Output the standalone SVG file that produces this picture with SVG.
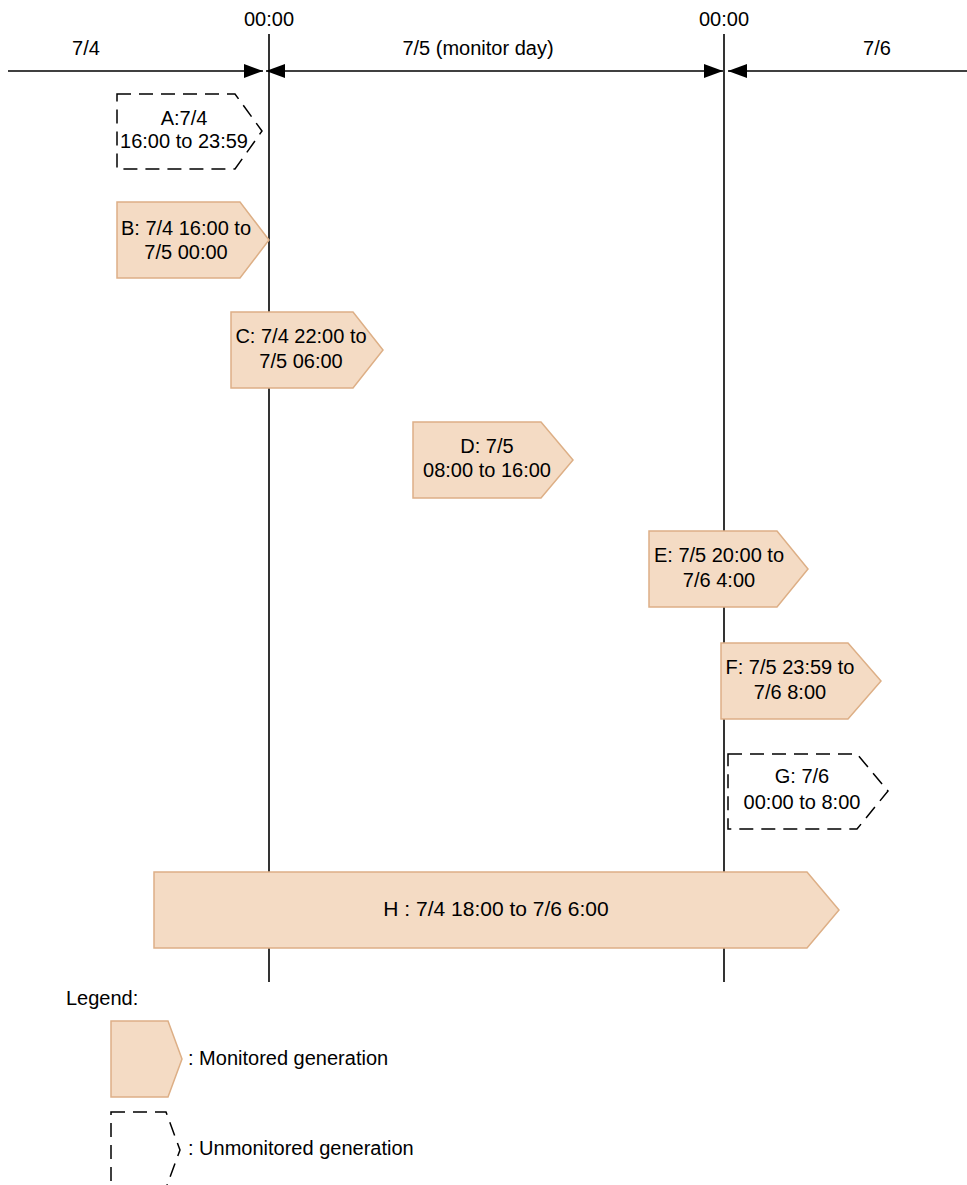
<svg xmlns="http://www.w3.org/2000/svg" width="967" height="1185" viewBox="0 0 967 1185">
<style>
text{font-family:"Liberation Sans",Arial,sans-serif;font-size:20px;fill:#000}
.c{text-anchor:middle}
.mon{fill:#F4DBC4;stroke:#DDAF86;stroke-width:1.5}
.unm{fill:none;stroke:#000;stroke-width:1.5;stroke-dasharray:14 8}
.ln{stroke:#000;stroke-width:1.6;fill:none}
</style>
<defs>
<marker id="ah" markerUnits="userSpaceOnUse" markerWidth="19" markerHeight="14" viewBox="0 0 19 14" refX="19" refY="7" orient="auto-start-reverse">
<path d="M0,0 L19,7 L0,14 z" fill="#000"/>
</marker>
</defs>
<rect width="967" height="1185" fill="#fff"/>
<g id="header">
<text class="c" x="269" y="26">00:00</text>
<text class="c" x="724" y="26">00:00</text>
<text class="c" x="86" y="55">7/4</text>
<text class="c" x="478" y="55">7/5 (monitor day)</text>
<text class="c" x="877" y="55">7/6</text>
</g>
<g id="connectors">
<line class="ln" x1="269" y1="34" x2="269" y2="982"/>
<line class="ln" x1="724" y1="34" x2="724" y2="982"/>
<line class="ln" x1="8" y1="71" x2="263" y2="71" marker-end="url(#ah)"/>
<line class="ln" x1="266" y1="71" x2="723" y2="71" marker-start="url(#ah)" marker-end="url(#ah)"/>
<line class="ln" x1="728" y1="71" x2="967" y2="71" marker-start="url(#ah)"/>
</g>
<g id="nodeA">
<path class="unm" d="M117,94 H235 L262,131 L235,169 H117 Z" style="fill:#fff"/>
<text class="c" x="184" y="125">A:7/4</text>
<text class="c" x="184" y="148">16:00 to 23:59</text>
</g>
<g id="nodeB">
<path class="mon" d="M117,202 H240 L269,240 L240,278 H117 Z"/>
<text class="c" x="186" y="235">B: 7/4 16:00 to</text>
<text class="c" x="186" y="259">7/5 00:00</text>
</g>
<g id="nodeC">
<path class="mon" d="M231,312 H353 L383,350 L353,388 H231 Z"/>
<text class="c" x="301" y="343">C: 7/4 22:00 to</text>
<text class="c" x="301" y="368">7/5 06:00</text>
</g>
<g id="nodeD">
<path class="mon" d="M413,422 H541 L573,460 L541,498 H413 Z"/>
<text class="c" x="487" y="453">D: 7/5</text>
<text class="c" x="487" y="477">08:00 to 16:00</text>
</g>
<g id="nodeE">
<path class="mon" d="M649,531 H777 L808,569 L777,607 H649 Z"/>
<text class="c" x="719" y="562">E: 7/5 20:00 to</text>
<text class="c" x="719" y="587">7/6 4:00</text>
</g>
<g id="nodeF">
<path class="mon" d="M721,643 H848 L881,681 L848,719 H721 Z"/>
<text class="c" x="790" y="674">F: 7/5 23:59 to</text>
<text class="c" x="790" y="699">7/6 8:00</text>
</g>
<g id="nodeG">
<path class="unm" d="M728,754 H857 L888,791 L857,829 H728 Z" style="fill:#fff"/>
<text class="c" x="802" y="783">G: 7/6</text>
<text class="c" x="802" y="809">00:00 to 8:00</text>
</g>
<g id="nodeH">
<path class="mon" d="M154,872 H807 L839,910 L807,948 H154 Z"/>
<text class="c" x="496" y="916" style="font-size:21px">H : 7/4 18:00 to 7/6 6:00</text>
</g>
<g id="legend">
<text x="66" y="1005">Legend:</text>
<path class="mon" d="M111,1021 H168 L182,1059 L168,1097 H111 Z"/>
<text x="188" y="1065">: Monitored generation</text>
<path class="unm" d="M111,1112 H166 L180,1150 L166,1188 H111 Z"/>
<text x="188" y="1155">: Unmonitored generation</text>
</g>
</svg>
